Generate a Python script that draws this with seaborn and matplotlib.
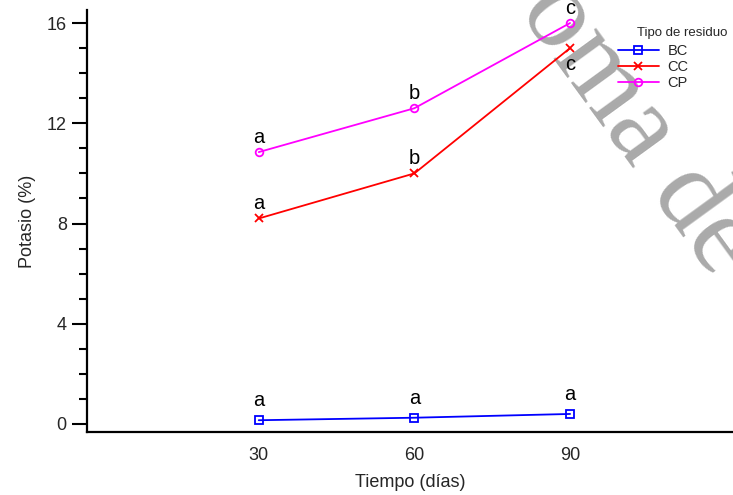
import matplotlib
matplotlib.use("Agg")
import matplotlib.pyplot as plt
from matplotlib.ticker import MultipleLocator
import seaborn as sns
import pandas as pd

# ---- data ----
tiempo = [30, 60, 90]
residuos = ["BC", "CC", "CP"]
bc_vals = [0.15, 0.25, 0.40]
cc_vals = [8.2, 10.0, 15.0]
cp_vals = [10.85, 12.6, 16.0]
bc_letras = ["a", "a", "a"]
cc_letras = ["a", "b", "c"]
cp_letras = ["a", "b", "c"]
yticks = [0, 4, 8, 12, 16]

df = pd.DataFrame({
    "Tiempo": tiempo * 3,
    "Potasio": bc_vals + cc_vals + cp_vals,
    "Tipo": [r for r in residuos for _ in tiempo],
})

sns.set_style("white")
plt.rcParams["font.family"] = ["Liberation Sans", "DejaVu Sans"]

fig = plt.figure(figsize=(7.33, 4.95), dpi=100)
ax = fig.add_axes([87 / 733, 1 - 432 / 495, 1 - 87 / 733, (432 - 10) / 495])
ax.patch.set_alpha(0)

colors = {"BC": "#0000ff", "CC": "#ff0000", "CP": "#ff00ff"}
markers = {"BC": "s", "CC": "x", "CP": "o"}
for name in residuos:
    sub = df[df["Tipo"] == name]
    sns.lineplot(data=sub, x="Tiempo", y="Potasio", color=colors[name],
                 marker=markers[name], legend=False, ax=ax, linewidth=1.3,
                 markersize=5.5, markerfacecolor="none", markeredgewidth=1.3,
                 markeredgecolor=colors[name], label=name)

# significance letters
for vals, letras, name in [(bc_vals, bc_letras, "BC"), (cc_vals, cc_letras, "CC"),
                           (cp_vals, cp_letras, "CP")]:
    for i, (x, y, l) in enumerate(zip(tiempo, vals, letras)):
        if name == "CC" and i == 2:
            off = -16
        elif name == "BC":
            off = 10
        else:
            off = 6.5
        ax.annotate(l, (x, y), xytext=(0, off), textcoords="offset points",
                    ha="center", va="baseline", fontsize=14.5, color="black")

ax.set_xlim(-3.1, 121.4)
ax.set_ylim(-0.32, 16.52)
ax.set_xticks(tiempo)
ax.set_xticklabels([str(t) for t in tiempo])
ax.set_yticks(yticks)
ax.set_yticklabels([str(t) for t in yticks])
ax.yaxis.set_minor_locator(MultipleLocator(1))
ax.tick_params(axis="x", length=0, pad=11, labelsize=13)
ax.tick_params(axis="y", which="major", length=11, width=1.5, pad=3.5,
               labelsize=13, direction="out", left=True, color="black")
ax.tick_params(axis="y", which="minor", length=6, width=1.5, direction="out",
               left=True, color="black")
for s in ["top", "right"]:
    ax.spines[s].set_visible(False)
for s in ["left", "bottom"]:
    ax.spines[s].set_color("black")
    ax.spines[s].set_linewidth(1.6)
ax.set_xlabel("Tiempo (días)", fontsize=13, labelpad=7)
ax.set_ylabel("Potasio (%)", fontsize=13, labelpad=8)

leg = ax.legend(handles=ax.lines[:3], labels=residuos, loc="upper left",
                bbox_to_anchor=(618 / 733, 1 - 44 / 495), bbox_transform=fig.transFigure,
                frameon=False, fontsize=10.5, handlelength=2.8, handletextpad=0.6,
                labelspacing=0.15, borderpad=0, borderaxespad=0)
fig.text(682 / 733, 1 - 33 / 495, "Tipo de residuo", ha="center", va="center",
         fontsize=9.5)

# watermark
fig.text(638 / 733, 1 - 128 / 495, "oma de", rotation=-54, rotation_mode="anchor",
         ha="center", va="center", fontsize=82, color="#aaaaaa",
         family=["Liberation Serif"], zorder=-5)

fig.savefig("out.png", dpi=100)
